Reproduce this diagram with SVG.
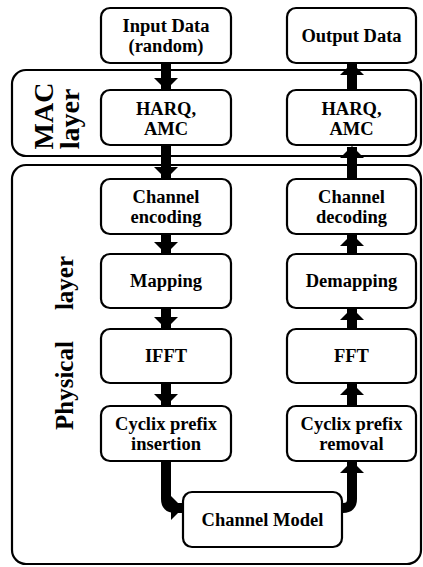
<svg xmlns="http://www.w3.org/2000/svg" width="423" height="567" viewBox="0 0 423 567">
<defs>
<style>
.box{fill:#fff;stroke:#000;stroke-width:2.2}
.layer{fill:none;stroke:#000;stroke-width:2.2}
.t{font-family:"Liberation Serif","Times New Roman",serif;font-weight:bold;font-size:18.5px;text-anchor:middle;fill:#000}
.lt{font-family:"Liberation Serif","Times New Roman",serif;font-weight:bold;fill:#000}
.c{fill:none;stroke:#000;stroke-width:10}
</style>
<marker id="ah" markerUnits="userSpaceOnUse" markerWidth="12" markerHeight="24" viewBox="0 0 12 24" refX="11" refY="12" orient="auto">
<path d="M0,0 L12,12 L0,24 Z" fill="#000"/>
</marker>
</defs>
<rect width="423" height="567" fill="#fff"/>
<g id="mac-layer">
<rect class="layer" x="12" y="70" width="409" height="86" rx="14"/>
<text class="lt" font-size="28" text-anchor="middle" transform="translate(53,116) rotate(-90)">MAC</text>
<text class="lt" font-size="28" text-anchor="middle" transform="translate(79,119) rotate(-90)">layer</text>
</g>
<g id="physical-layer">
<rect class="layer" x="12" y="165" width="409" height="399" rx="14"/>
<text class="lt" font-size="25" transform="translate(73,430) rotate(-90)">Physical<tspan dx="31">layer</tspan></text>
</g>
<g id="input-data">
<rect class="box" x="101" y="8" width="130" height="55" rx="9"/>
<text class="t" x="166" y="32">Input Data</text>
<text class="t" x="166" y="52">(random)</text>
</g>
<g id="output-data">
<rect class="box" x="287" y="8" width="129" height="55" rx="9"/>
<text class="t" x="351.5" y="42">Output Data</text>
</g>
<g id="harq-tx">
<rect class="box" x="101" y="90" width="130" height="55" rx="9"/>
<text class="t" x="166" y="115">HARQ,</text>
<text class="t" x="166" y="135">AMC</text>
</g>
<g id="harq-rx">
<rect class="box" x="287" y="90" width="129" height="55" rx="9"/>
<text class="t" x="351.5" y="115">HARQ,</text>
<text class="t" x="351.5" y="135">AMC</text>
</g>
<g id="channel-encoding">
<rect class="box" x="101" y="179" width="130" height="55" rx="9"/>
<text class="t" x="166" y="203">Channel</text>
<text class="t" x="166" y="223">encoding</text>
</g>
<g id="channel-decoding">
<rect class="box" x="287" y="179" width="129" height="55" rx="9"/>
<text class="t" x="351.5" y="203">Channel</text>
<text class="t" x="351.5" y="223">decoding</text>
</g>
<g id="mapping">
<rect class="box" x="101" y="254" width="130" height="54" rx="9"/>
<text class="t" x="166" y="287">Mapping</text>
</g>
<g id="demapping">
<rect class="box" x="287" y="254" width="129" height="54" rx="9"/>
<text class="t" x="351.5" y="287">Demapping</text>
</g>
<g id="ifft">
<rect class="box" x="101" y="329" width="130" height="54" rx="9"/>
<text class="t" x="166" y="362">IFFT</text>
</g>
<g id="fft">
<rect class="box" x="287" y="329" width="129" height="54" rx="9"/>
<text class="t" x="351.5" y="362">FFT</text>
</g>
<g id="cp-insertion">
<rect class="box" x="101" y="406" width="130" height="55" rx="9"/>
<text class="t" x="166" y="430">Cyclix prefix</text>
<text class="t" x="166" y="450">insertion</text>
</g>
<g id="cp-removal">
<rect class="box" x="287" y="406" width="129" height="55" rx="9"/>
<text class="t" x="351.5" y="430">Cyclix prefix</text>
<text class="t" x="351.5" y="450">removal</text>
</g>
<g id="channel-model">
<rect class="box" x="183" y="492" width="159" height="55" rx="9"/>
<text class="t" x="262.5" y="526">Channel Model</text>
</g>
<g id="connectors">
<path class="c" d="M166,63 V89" marker-end="url(#ah)"/>
<path class="c" d="M166,146 V178" marker-end="url(#ah)"/>
<path class="c" d="M166,234 V253" marker-end="url(#ah)"/>
<path class="c" d="M166,308 V328" marker-end="url(#ah)"/>
<path class="c" d="M166,383 V405" marker-end="url(#ah)"/>
<path class="c" d="M166,461 V499 Q166,508 175,508 H182" marker-end="url(#ah)"/>
<path class="c" d="M342,508 H343 Q352,508 352,499 V462" marker-end="url(#ah)"/>
<path class="c" d="M352,406 V384" marker-end="url(#ah)"/>
<path class="c" d="M352,329 V309" marker-end="url(#ah)"/>
<path class="c" d="M352,254 V235" marker-end="url(#ah)"/>
<path class="c" d="M352,179 V147" marker-end="url(#ah)"/>
<path class="c" d="M352,90 V64" marker-end="url(#ah)"/>
</g>
</svg>
